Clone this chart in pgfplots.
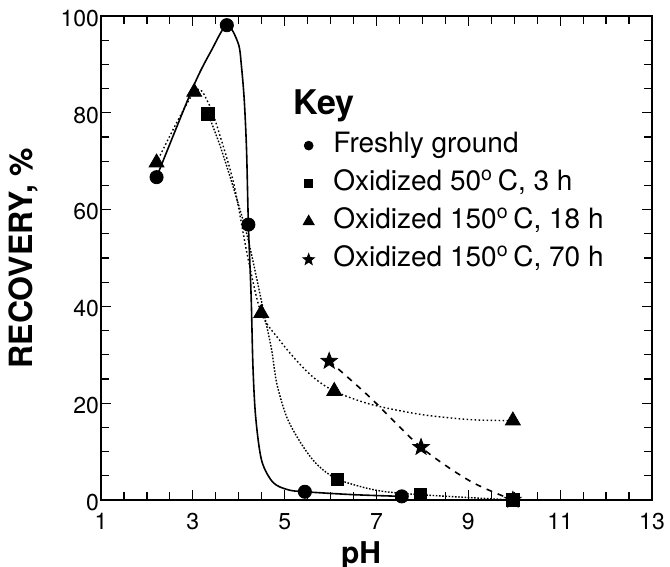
\documentclass[border=0pt]{standalone}
\usepackage{pgfplots}
\pgfplotsset{compat=1.18}
\usepackage{fontspec}
\setmainfont{TeX Gyre Heros}
\usetikzlibrary{plotmarks}
\pgfdeclareplotmark{fstar}{%
  \pgfpathmoveto{\pgfpointpolar{90}{\pgfplotmarksize}}%
  \pgfpathlineto{\pgfpointpolar{126}{0.42\pgfplotmarksize}}%
  \pgfpathlineto{\pgfpointpolar{162}{\pgfplotmarksize}}%
  \pgfpathlineto{\pgfpointpolar{198}{0.42\pgfplotmarksize}}%
  \pgfpathlineto{\pgfpointpolar{234}{\pgfplotmarksize}}%
  \pgfpathlineto{\pgfpointpolar{270}{0.42\pgfplotmarksize}}%
  \pgfpathlineto{\pgfpointpolar{306}{\pgfplotmarksize}}%
  \pgfpathlineto{\pgfpointpolar{342}{0.42\pgfplotmarksize}}%
  \pgfpathlineto{\pgfpointpolar{18}{\pgfplotmarksize}}%
  \pgfpathlineto{\pgfpointpolar{54}{0.42\pgfplotmarksize}}%
  \pgfpathclose\pgfusepathqfillstroke}
\begin{document}
\begin{tikzpicture}
\begin{axis}[
  name=ax,
  scale only axis, width=275.5pt, height=242pt,
  xmin=1, xmax=13, ymin=0, ymax=100,
  xtick={1,3,...,13}, ytick={0,20,...,100},
  minor x tick num=3, minor y tick num=3,
  tick align=inside, xtick pos=both, ytick pos=both,
  xticklabel pos=lower, yticklabel pos=left,
  major tick length=5pt, minor tick length=4pt,
  every tick/.style={black, line width=0.6pt},
  axis line style={line width=0.9pt},
  /pgf/number format/assume math mode=true,
  ticklabel style={font=\fontsize{11.5}{13}\selectfont},
  yticklabel style={xshift=2.5pt, yshift=-1.2pt},
  xticklabel style={yshift=-3pt},
  xlabel={\textbf{pH}}, ylabel={\textbf{RECOVERY, \%}},
  xlabel style={at={(rel axis cs:0.472,-0.0847)}, anchor=north, inner sep=0pt, font=\fontsize{15}{17}\selectfont},
  ylabel style={at={(rel axis cs:-0.1143,0.5)}, anchor=south, inner sep=0pt, font=\fontsize{16}{18}\selectfont},
  clip=false,
  legend style={draw=none, fill=none, at={(axis cs:5.39,76.4)}, anchor=north west,
    font=\fontsize{14}{16}\selectfont, row sep=4pt, column sep=8.5pt, inner sep=0pt,
    nodes={inner sep=1pt, text height=10pt, text depth=3pt}, cells={anchor=west}},
]
% curves (read from the drawn lines)
\addplot[black, line width=0.8pt, smooth, tension=0.5, forget plot] coordinates {
 (2.21,66.7) (3.01,85.4) (3.4,92.8) (3.74,98.1) (3.99,94.3) (4.06,89.5) (4.12,82.6) (4.17,72.3)
 (4.21,56.9) (4.27,42) (4.31,27.4) (4.37,17) (4.5,8.1) (4.75,3.6) (5.08,2.1) (5.44,1.7) (6.5,1.1) (7.55,0.75)};
\addplot[black, line width=0.7pt, dash pattern=on 0.8pt off 0.8pt, smooth, tension=0.5, forget plot] coordinates {
 (3.33,79.8) (3.6,73) (3.9,64) (4.2,54) (4.57,37.7) (4.72,30.8) (4.83,24) (5.05,17) (5.37,11.5) (5.70,7.4) (6.15,4.3)
 (7.0,2.0) (7.95,1.1) (9.97,0)};
\addplot[black, line width=0.7pt, dash pattern=on 0.8pt off 1.2pt, smooth, tension=0.5, forget plot] coordinates {
 (2.21,69.7) (3.03,84.3) (3.34,82) (3.6,75) (3.9,65) (4.2,50) (4.49,38.6) (4.9,32.9) (5.26,28.8) (5.63,25.3)
 (6.08,22.5) (6.86,19.8) (7.95,17.7) (9.04,16.6) (9.97,16.4)};
\addplot[black, line width=0.8pt, dashed, smooth, tension=0.5, forget plot] coordinates {
 (5.97,28.7) (6.86,21.2) (7.97,10.9) (9.04,3.9) (9.97,0)};
% markers
\addplot[only marks, mark=*, mark size=3.3pt, black, legend image post style={mark size=2.2pt}] coordinates {
 (2.21,66.7) (3.74,98.1) (4.21,56.9) (5.44,1.7) (7.55,0.75)};
\addlegendentry{Freshly ground}
\addplot[only marks, mark=square*, mark size=3.1pt, black, legend image post style={mark size=2pt}] coordinates {
 (3.33,79.8) (6.15,4.3) (7.95,1.1) (9.97,0)};
\addlegendentry{Oxidized 50\textsuperscript{o}\,C, 3 h}
\addplot[only marks, mark=triangle*, mark size=4.3pt, black, legend image post style={mark size=3.2pt}] coordinates {
 (2.21,69.7) (3.03,84.3) (4.49,38.6) (6.08,22.5) (9.97,16.4)};
\addlegendentry{Oxidized 150\textsuperscript{o}\,C, 18 h}
\addplot[only marks, mark=fstar, mark size=4.3pt, black, legend image post style={mark size=3pt}] coordinates {
 (5.97,28.7) (7.97,10.9) (9.97,0)};
\addlegendentry{Oxidized 150\textsuperscript{o}\,C, 70 h}
\node[anchor=base west, inner sep=0pt, font=\fontsize{17}{19}\selectfont\bfseries] at (axis cs:5.18,79.7) {Key};
\end{axis}
\pgfresetboundingbox
\path[use as bounding box] ([xshift=-50.5pt,yshift=-33.5pt]ax.south west) rectangle ([xshift=9pt,yshift=8pt]ax.north east);
\end{tikzpicture}
\end{document}
